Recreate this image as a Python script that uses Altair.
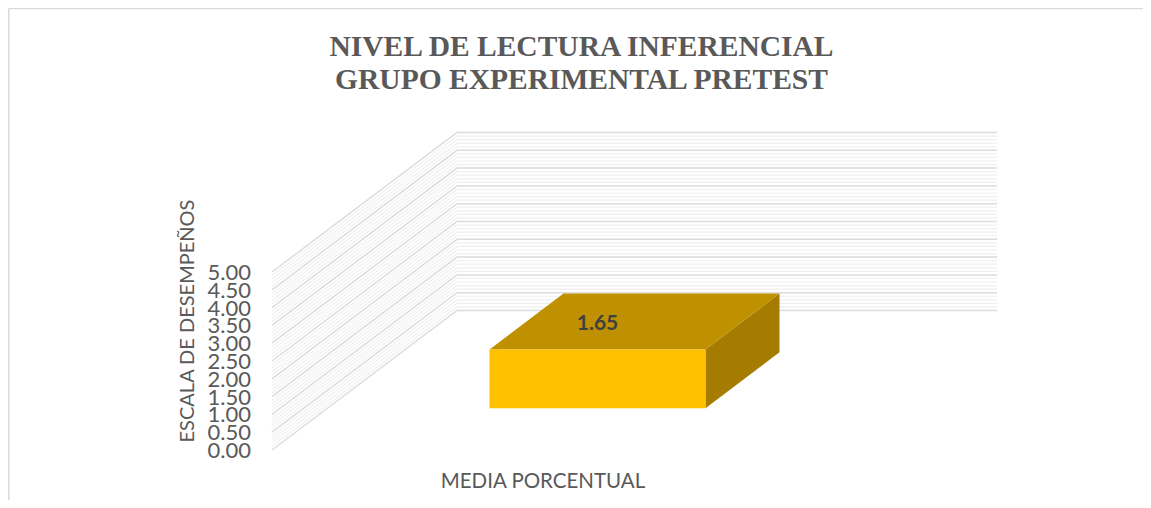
import altair as alt
import pandas as pd

# ---- chart values
title_lines = ["NIVEL DE LECTURA INFERENCIAL", "GRUPO EXPERIMENTAL PRETEST"]
x_title = "MEDIA PORCENTUAL"
y_title = "ESCALA DE DESEMPEÑOS"
major_ticks = [0.0, 0.5, 1.0, 1.5, 2.0, 2.5, 3.0, 3.5, 4.0, 4.5, 5.0]
minor_ticks = [round(i / 10, 1) for i in range(51) if i % 5 != 0]
bar_value = 1.65
bar_x = [0.30, 0.70]      # share of the category axis
bar_depth = [0.30, 0.70]  # share of the depth axis

# ---- oblique 3D projection to the picture's coordinates
W, H = 1135, 492
X0, Y0 = 272.0, 450.0     # origin at the front of the floor
X_LEN = 540.0
UNIT = 35.6               # per axis unit
DX, DY = 185.0, 139.5     # depth vector


def sx(x, d=0.0):
    return X0 + x * X_LEN + d * DX


def sy(v, d=0.0):
    return Y0 - v * UNIT - d * DY


xs = alt.Scale(domain=[8, 8 + W], range=[0, W], nice=False, zero=False)
ys = alt.Scale(domain=[8 + H, 8], range=[H, 0], nice=False, zero=False)


def X(field="x"):
    return alt.X(f"{field}:Q", scale=xs, axis=None)


def Y(field="y"):
    return alt.Y(f"{field}:Q", scale=ys, axis=None)


def gridlines(ticks, color, width):
    rows = []
    for t in ticks:
        rows += [
            {"t": t, "i": 0, "x": sx(0, 0), "y": sy(t, 0)},
            {"t": t, "i": 1, "x": sx(0, 1), "y": sy(t, 1)},
            {"t": t, "i": 2, "x": sx(1, 1), "y": sy(t, 1)},
        ]
    return alt.Chart(pd.DataFrame(rows)).mark_line(color=color, strokeWidth=width).encode(
        x=X(), y=Y(), detail="t:N", order="i:Q"
    )


def face(rows, color):
    df = pd.DataFrame(rows, columns=["x", "y", "y2"])
    return alt.Chart(df).mark_area(color=color, opacity=1, interpolate="linear").encode(
        x=X(), y=Y(), y2="y2:Q"
    )


def text(rows, size, font, color, weight="normal", angle=0, align="center"):
    kw = {"angle": angle} if angle else {}
    return alt.Chart(pd.DataFrame(rows)).mark_text(
        fontSize=size, font=font, color=color, fontWeight=weight, align=align, baseline="middle", **kw
    ).encode(x=X(), y=Y(), text="t:N")


x0, x1 = bar_x
d0, d1 = bar_depth
v = bar_value

front = face([[sx(x0, d0), sy(v, d0), sy(0, d0)], [sx(x1, d0), sy(v, d0), sy(0, d0)]], "#FFC000")
top = face(
    [
        [sx(x0, d0), sy(v, d0), sy(v, d0)],
        [sx(x0, d1), sy(v, d1), sy(v, d0)],
        [sx(x1, d0), sy(v, d1), sy(v, d0)],
        [sx(x1, d1), sy(v, d1), sy(v, d1)],
    ],
    "#BF9000",
)
side = face([[sx(x1, d0), sy(v, d0), sy(0, d0)], [sx(x1, d1), sy(v, d1), sy(0, d1)]], "#A67C00")

border = alt.Chart(
    pd.DataFrame([{"x": 8.8, "y": 8.5, "i": 0, "g": 0}, {"x": 8.8, "y": 8 + H, "i": 1, "g": 0},
                  {"x": 8.8, "y": 8.5, "i": 0, "g": 1}, {"x": 8 + W, "y": 8.5, "i": 1, "g": 1}])
).mark_line(color="#d9d9d9", strokeWidth=1.5).encode(x=X(), y=Y(), detail="g:N", order="i:Q")

TXT = "#595959"
tick_labels = text(
    [{"x": 251, "y": sy(t) + 1, "t": f"{t:.2f}"} for t in major_ticks], 22, "Lato", TXT, align="right"
)
titles = text(
    [{"x": 581.5, "y": 47 + i * 33, "t": s} for i, s in enumerate(title_lines)],
    29.5, "Liberation Serif", TXT, weight="bold",
)
xlab = text([{"x": 543, "y": 481.5, "t": x_title}], 20.5, "Lato", TXT)
ylab = text([{"x": 188, "y": 321, "t": y_title}], 20, "Lato", TXT, angle=270)
dlab = text(
    [{"x": (sx(x0, d0) + sx(x1, d0)) / 2, "y": (sy(v, d0) + sy(v, d1)) / 2 + 2, "t": f"{v:.2f}"}],
    21, "Lato", "#404040", weight="bold",
)

chart = (
    alt.layer(
        border,
        gridlines(minor_ticks, "#f0f0f0", 1.2),
        gridlines(major_ticks, "#dcdcdc", 1.5),
        side, top, front,
        tick_labels, titles, xlab, ylab, dlab,
    )
    .properties(width=W, height=H, padding=0, autosize=alt.AutoSizeParams(type="none"), background="white")
    .configure_view(stroke=None)
)

chart.save("out.html", embed_options={"renderer": "svg", "actions": False})
